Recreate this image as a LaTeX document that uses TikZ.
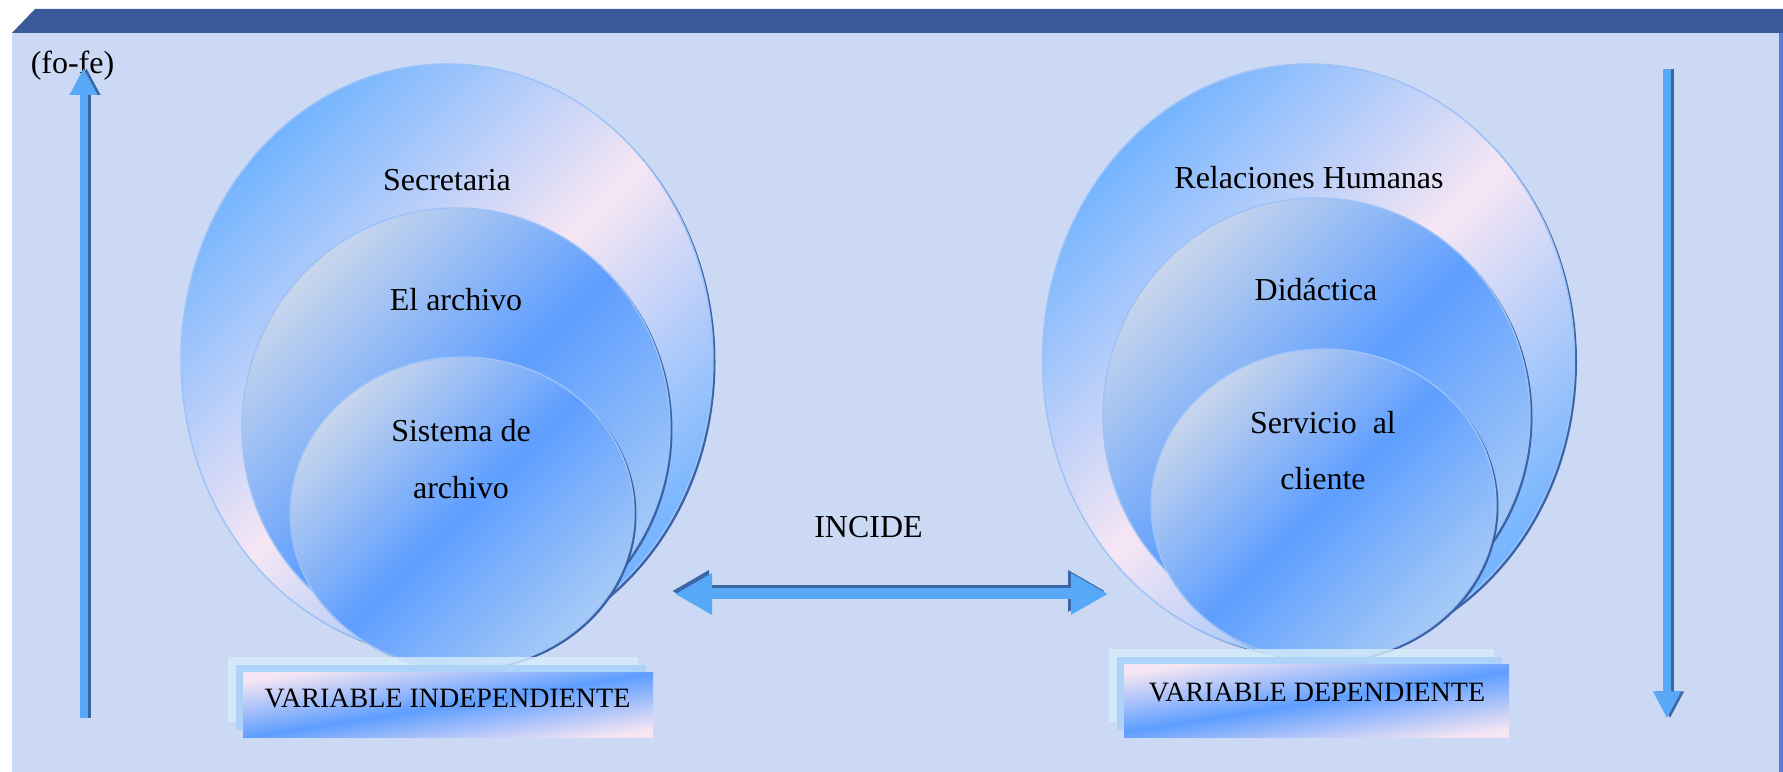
\documentclass[tikz,border=0pt]{standalone}
\usepackage{fontspec}
\setmainfont{Liberation Serif}
\usepackage{tikz}
\usetikzlibrary{arrows.meta}
\usetikzlibrary{positioning,shapes,shadows}
\definecolor{barblue}{HTML}{3B5A9B}
\definecolor{panelblue}{HTML}{CBD9F4}
\definecolor{edgeblue}{HTML}{5B7CD6}
\definecolor{ringblue}{HTML}{74B4FF}
\definecolor{ringpink}{HTML}{F6E6F4}
\definecolor{ringgrey}{HTML}{C8D6EC}
\definecolor{coreblue}{HTML}{5E9EFF}
\definecolor{corelow}{HTML}{A6CAF6}
\definecolor{rimdark}{HTML}{3A62A6}
\definecolor{rimlight}{HTML}{9CC2F8}
\definecolor{arrowblue}{HTML}{58A8F8}
\definecolor{arrowdark}{HTML}{3A66A6}
\definecolor{layerfar}{HTML}{D6ECFA}
\definecolor{layernear}{HTML}{AED2F8}
\tikzset{
    ring/.style={
        ellipse,
        inner sep=0pt,
        draw=rimlight,
        line width=0.4pt,
        general shadow={fill=rimdark, shadow xshift=0.025cm, shadow yshift=-0.02cm}
    },
    outerring/.style={
        ring,
        top color=ringblue, bottom color=ringblue, middle color=ringpink,
        shading angle=45
    },
    innerring/.style={
        ring,
        top color=ringgrey, bottom color=corelow, middle color=coreblue,
        shading angle=45
    },
    ringtext/.style={
        font=\fontsize{9.1}{16}\selectfont,
        align=center
    },
    varbox/.style={
        rectangle,
        inner sep=0pt,
        general shadow={fill=layerfar, opacity=0.8, shadow xshift=-0.155cm, shadow yshift=0.16cm},
        general shadow={fill=layernear, shadow xshift=-0.075cm, shadow yshift=0.08cm},
        top color=ringpink, bottom color=ringpink, middle color=coreblue,
        shading angle=9
    },
    vartext/.style={
        font=\fontsize{7.97}{9}\selectfont
    },
    blockarrow/.style={
        draw=arrowblue,
        line width=0.08cm,
        -{Triangle[length=0.27cm, width=0.26cm]}
    }
}

\begin{document}
\begin{tikzpicture}
  \useasboundingbox (0,0) rectangle (17.83,7.72);

  % Background panel and top bar
  \fill[panelblue] (0.12,0) rectangle (17.83,7.39);
  \fill[barblue] (0.12,7.39) -- (0.35,7.63) -- (17.83,7.63) -- (17.83,7.39) -- cycle;
  \fill[edgeblue] (17.79,0) rectangle (17.83,7.39);

  \node[font=\fontsize{9.1}{11}\selectfont] (fofe) at (0.725,7.065) {(fo-fe)};

  % Vertical arrows
  \coordinate (lbot) at (0.835,0.54);
  \coordinate (ltop) at (0.835,7.04);
  \draw[blockarrow, draw=arrowdark, transform canvas={xshift=0.03cm}] (lbot) -- (ltop);
  \draw[blockarrow] (lbot) -- (ltop);

  \coordinate (rtop) at (16.67,7.03);
  \coordinate (rbot) at (16.67,0.535);
  \draw[blockarrow, draw=arrowdark, transform canvas={xshift=0.03cm}] (rtop) -- (rbot);
  \draw[blockarrow] (rtop) -- (rbot);

  % Independent variable
  \begin{scope}
    \node[outerring, minimum width=5.32cm, minimum height=5.92cm] (secr) at (4.47,4.12) {};
    \node[innerring, minimum width=4.28cm, minimum height=4.40cm] (arch) at (4.56,3.44) {};
    \node[innerring, minimum width=3.44cm, minimum height=3.12cm] (sist) at (4.62,2.59) {};
    \node[ringtext] (secrtext) at (4.47,5.92) {Secretaria};
    \node[ringtext] (archtext) at (4.56,4.72) {El archivo};
    \node[ringtext] (sisttext) at (4.61,3.13) {Sistema de\\archivo};

    \node[varbox, minimum width=4.10cm, minimum height=0.65cm] (indep) at (4.48,0.665) {};
    \node[vartext] (indeptext) at (4.475,0.74) {VARIABLE INDEPENDIENTE};
  \end{scope}

  % Dependent variable
  \begin{scope}
    \node[outerring, minimum width=5.32cm, minimum height=5.92cm] (relh) at (13.085,4.12) {};
    \node[innerring, minimum width=4.27cm, minimum height=4.36cm] (dida) at (13.165,3.56) {};
    \node[innerring, minimum width=3.45cm, minimum height=3.12cm] (serv) at (13.235,2.67) {};
    \node[ringtext] (relhtext) at (13.09,5.945) {Relaciones Humanas};
    \node[ringtext] (didatext) at (13.16,4.82) {Didáctica};
    \node[ringtext] (servtext) at (13.23,3.214) {Servicio~ al\\cliente};

    \node[varbox, minimum width=3.85cm, minimum height=0.73cm] (dep) at (13.165,0.705) {};
    \node[vartext] (deptext) at (13.17,0.795) {VARIABLE DEPENDIENTE};
  \end{scope}

  % Relation between both
  \node[ringtext] (incide) at (8.685,2.45) {INCIDE};
  \coordinate (hleft) at (6.75,1.78);
  \coordinate (hright) at (11.08,1.78);
  \draw[draw=arrowdark, line width=0.11cm, {Triangle[length=0.37cm, width=0.39cm]}-{Triangle[length=0.37cm, width=0.39cm]},
        transform canvas={shift={(-0.03cm,0.03cm)}}] (hleft) -- (hright);
  \draw[draw=arrowblue, line width=0.11cm, {Triangle[length=0.37cm, width=0.39cm]}-{Triangle[length=0.37cm, width=0.39cm]}] (hleft) -- (hright);
\end{tikzpicture}
\end{document}
